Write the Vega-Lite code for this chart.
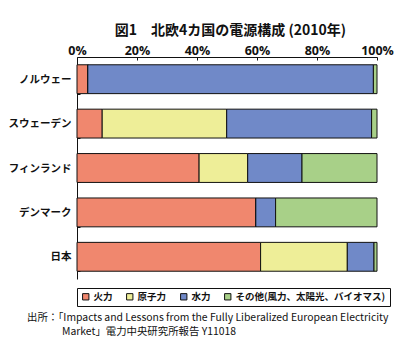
{
  "$schema": "https://vega.github.io/schema/vega-lite/v6.json",
  "autosize": "none",
  "width": 300,
  "height": 222,
  "padding": {"left": 77, "top": 57, "right": 38, "bottom": 77},
  "background": "white",
  "config": {"view": {"stroke": null}, "font": "Noto Sans CJK JP"},
  "title": {
    "text": ["出所：「Impacts and Lessons from the Fully Liberalized European Electricity", "\u2800\u2800\u2800\u2800\u2800Market」電力中央研究所報告 Y11018"],
    "orient": "bottom",
    "anchor": "start",
    "frame": "group",
    "dx": -50,
    "offset": 6,
    "fontSize": 10.4,
    "fontWeight": "normal",
    "font": "Noto Sans CJK JP",
    "lineHeight": 14.5,
    "color": "#111"
  },
  "data": {
    "values": [
      {"country": "ノルウェー", "source": "火力", "value": 3.6},
      {"country": "ノルウェー", "source": "原子力", "value": 0},
      {"country": "ノルウェー", "source": "水力", "value": 95.2},
      {"country": "ノルウェー", "source": "その他(風力、太陽光、バイオマス)", "value": 1.2},
      {"country": "スウェーデン", "source": "火力", "value": 8.4},
      {"country": "スウェーデン", "source": "原子力", "value": 41.5},
      {"country": "スウェーデン", "source": "水力", "value": 48.3},
      {"country": "スウェーデン", "source": "その他(風力、太陽光、バイオマス)", "value": 1.8},
      {"country": "フィンランド", "source": "火力", "value": 40.7},
      {"country": "フィンランド", "source": "原子力", "value": 16.2},
      {"country": "フィンランド", "source": "水力", "value": 18.1},
      {"country": "フィンランド", "source": "その他(風力、太陽光、バイオマス)", "value": 25.0},
      {"country": "デンマーク", "source": "火力", "value": 59.6},
      {"country": "デンマーク", "source": "原子力", "value": 0},
      {"country": "デンマーク", "source": "水力", "value": 6.6},
      {"country": "デンマーク", "source": "その他(風力、太陽光、バイオマス)", "value": 33.8},
      {"country": "日本", "source": "火力", "value": 61.2},
      {"country": "日本", "source": "原子力", "value": 28.9},
      {"country": "日本", "source": "水力", "value": 8.9},
      {"country": "日本", "source": "その他(風力、太陽光、バイオマス)", "value": 1.0}
    ]
  },
  "transform": [
    {"calculate": "indexof(['火力', '原子力', '水力', 'その他(風力、太陽光、バイオマス)'], datum.source)", "as": "stackOrder"}
  ],
  "mark": {"type": "bar", "stroke": "#111", "strokeWidth": 1},
  "encoding": {
    "y": {
      "field": "country",
      "type": "nominal",
      "sort": ["ノルウェー", "スウェーデン", "フィンランド", "デンマーク", "日本"],
      "scale": {"paddingInner": 0.35, "paddingOuter": 0.175},
      "axis": {
        "title": null,
        "orient": "left",
        "tickBand": "extent",
        "tickSize": -3,
        "domainColor": "#111",
        "tickColor": "#111",
        "labelFontSize": 10.5,
        "labelFontWeight": "bold",
        "labelColor": "#111",
        "labelPadding": 9
      }
    },
    "x": {
      "field": "value",
      "type": "quantitative",
      "stack": "normalize",
      "scale": {"domain": [0, 1], "nice": false},
      "axis": {
        "orient": "top",
        "format": ".0%",
        "values": [0, 0.2, 0.4, 0.6, 0.8, 1],
        "grid": false,
        "labelFlush": false,
        "tickSize": -3,
        "domainColor": "#111",
        "tickColor": "#111",
        "labelFontSize": 12.5,
        "labelFontWeight": "bold",
        "labelColor": "#111",
        "labelPadding": 3,
        "labelFont": "Open Sans",
        "title": "図1　北欧4カ国の電源構成 (2010年)",
        "titleFontSize": 14,
        "titleFontWeight": "bold",
        "titleColor": "#111",
        "titleX": 153,
        "titleAlign": "center",
        "titlePadding": 7
      }
    },
    "color": {
      "field": "source",
      "type": "nominal",
      "sort": ["火力", "原子力", "水力", "その他(風力、太陽光、バイオマス)"],
      "scale": {
        "domain": ["火力", "原子力", "水力", "その他(風力、太陽光、バイオマス)"],
        "range": ["#F0876E", "#EEEE98", "#7089C8", "#A8D088"]
      },
      "legend": {
        "title": null,
        "orient": "bottom",
        "direction": "horizontal",
        "symbolType": "square",
        "symbolSize": 40,
        "symbolStrokeColor": "#111",
        "symbolStrokeWidth": 1,
        "strokeColor": "#111",
        "padding": 4,
        "offset": 9,
        "labelFontSize": 9.5,
        "labelFontWeight": "bold",
        "labelColor": "#111",
        "labelOffset": 3,
        "labelLimit": 300,
        "columnPadding": 11
      }
    },
    "order": {"field": "stackOrder", "type": "quantitative", "sort": "ascending"}
  }
}
